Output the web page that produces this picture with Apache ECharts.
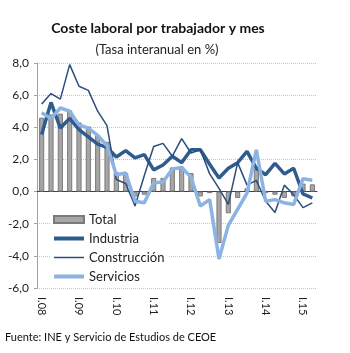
<!DOCTYPE html>
<html>
<head>
<meta charset="utf-8">
<script src="https://cdn.jsdelivr.net/npm/echarts@6.0.0/dist/echarts.min.js"></script>
<style>
  html, body { margin: 0; padding: 0; background: #fff; }
  #coste { width: 350px; height: 353px; }
</style>
</head>
<body>
<div id="coste"></div>
<script>
// trimestres I.08 - II.15
var trimestres = [];
var anios = ['08', '09', '10', '11', '12', '13', '14', '15'];
var romanos = ['I', 'II', 'III', 'IV'];
for (var a = 0; a < anios.length; a++) {
    for (var q = 0; q < 4; q++) {
        if (anios[a] == '15' && q > 1) break;
        trimestres.push(romanos[q] + '.' + anios[a]);
    }
}

var total = [4.6, 4.8, 4.85, 5.05, 4.3, 4.05, 3.5, 3.1, 1.2, 1.15,
             -0.3, -0.2, 0.85, 0.85, 1.5, 1.55, 1.15, -0.3, -0.1, -3.2,
             -1.35, -0.4, 0.2, 1.4, -0.1, -0.2, -0.4, -0.3, 0.5, 0.45];
var industria = [3.55, 5.55, 3.95, 4.55, 3.85, 3.4, 2.95, 2.75, 2.15, 2.55,
                 2.1, 2.3, 1.35, 1.65, 2.2, 1.8, 2.6, 2.6, 1.7, 0.85,
                 1.45, 1.8, 2.5, 1.45, 1.05, 1.75, 1.1, 1.45, -0.15, -0.4];
var construccion = [5.45, 6.1, 5.75, 7.9, 6.55, 6.3, 5.0, 4.1, 0.75, 0.5,
                    -0.9, 1.0, 2.8, 3.0, 2.2, 3.3, 2.4, 2.6, 1.1, 0.2,
                    -0.8, 1.8, 0.4, 0.7, -0.6, -1.3, 0.4, -0.2, -1.0, -0.7];
var servicios = [4.9, 4.55, 5.2, 5.0, 4.15, 3.95, 3.5, 2.85, 1.05, 1.15,
                 -0.6, -0.7, 0.55, 0.6, 1.4, 1.5, 0.9, -0.9, -0.5, -4.2,
                 -2.1, -1.1, -0.1, 2.6, -0.6, -0.5, -0.7, -0.8, 0.8, 0.7];

var fuente = 'Lato, "Open Sans", sans-serif';

var myChart = echarts.init(document.getElementById('coste'));

myChart.setOption({
    animation: false,
    textStyle: { fontFamily: fuente },
    grid: { left: 37, right: 33, top: 63, bottom: 65 },
    legend: {
        orient: 'vertical',
        left: 51,
        top: 212,
        padding: [1, 4, 1, 2],
        backgroundColor: '#fff',
        itemWidth: 30,
        itemHeight: 7,
        itemGap: 6,
        symbolKeepAspect: true,
        textStyle: { fontFamily: fuente, fontSize: 13, color: '#222', lineHeight: 13 },
        data: [
            { name: 'Total', icon: 'rect' },
            { name: 'Industria', icon: 'path://M0,0L30,0L30,4L0,4Z' },
            { name: 'Construcción', icon: 'path://M0,0L30,0L30,1.5L0,1.5Z' },
            { name: 'Servicios', icon: 'path://M0,0L30,0L30,4L0,4Z' }
        ]
    },
    xAxis: [{
        type: 'category',
        data: trimestres,
        axisLine: { onZero: true, lineStyle: { color: '#404040', width: 1 } },
        axisTick: { interval: 0, length: 4, lineStyle: { color: '#404040' } },
        axisLabel: { show: false },
        splitLine: { show: false }
    }, {
        type: 'category',
        data: trimestres,
        position: 'bottom',
        axisLine: { show: false, onZero: false },
        axisTick: { show: false },
        axisLabel: { interval: 3, rotate: -90, margin: 9, fontSize: 11, color: '#222', fontFamily: fuente }
    }],
    yAxis: {
        type: 'value',
        min: -6,
        max: 8,
        interval: 2,
        axisLine: { show: true, lineStyle: { color: '#a0a0a0' } },
        axisTick: { show: true, length: 3, lineStyle: { color: '#a0a0a0' } },
        axisLabel: {
            margin: 8, fontSize: 12, color: '#222', fontFamily: fuente,
            formatter: function (v) { return v.toFixed(1).replace('.', ','); }
        },
        splitLine: { lineStyle: { color: '#c4c4c4', type: 'dotted' } }
    },
    graphic: [
        {
            type: 'text', x: 158, y: 28,
            style: { text: 'Coste laboral por trabajador y mes', font: 'bold 14px ' + fuente,
                     fill: '#111', textAlign: 'center', textVerticalAlign: 'middle' }
        },
        {
            type: 'text', x: 157, y: 50,
            style: { text: '(Tasa interanual en %)', font: '13px ' + fuente,
                     fill: '#222', textAlign: 'center', textVerticalAlign: 'middle' }
        },
        {
            type: 'text', x: 5, y: 337,
            style: { text: 'Fuente: INE y Servicio de Estudios de CEOE', font: '11px ' + fuente,
                     fill: '#111', textAlign: 'left', textVerticalAlign: 'middle' }
        }
    ],
    series: [
        {
            name: 'Total', type: 'bar', data: total, barWidth: '55%',
            itemStyle: { color: '#a6a6a6', borderColor: '#7a7a7a', borderWidth: 1 }
        },
        {
            name: 'Industria', type: 'line', data: industria, symbol: 'none',
            itemStyle: { color: '#2f5c8f' },
            lineStyle: { color: '#2f5c8f', width: 3.5 }
        },
        {
            name: 'Construcción', type: 'line', data: construccion, symbol: 'none',
            itemStyle: { color: '#2b4d7d' },
            lineStyle: { color: '#2b4d7d', width: 1.5 }
        },
        {
            name: 'Servicios', type: 'line', data: servicios, symbol: 'none',
            itemStyle: { color: '#8cb3e1' },
            lineStyle: { color: '#8cb3e1', width: 3.5 }
        }
    ]
});
</script>
</body>
</html>
